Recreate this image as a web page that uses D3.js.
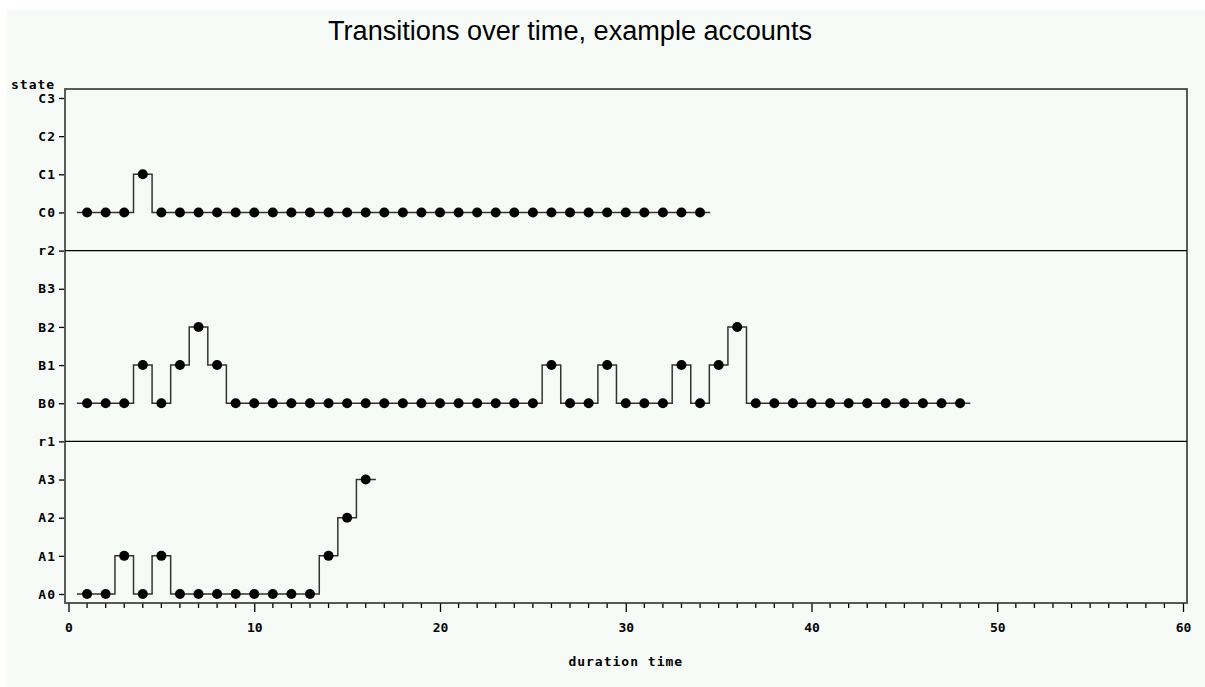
<!DOCTYPE html>
<html>
<head>
<meta charset="utf-8">
<script src="https://cdn.jsdelivr.net/npm/d3@7"></script>
<style>
html,body{margin:0;padding:0;background:#ffffff;}
svg{display:block;}
</style>
</head>
<body>
<svg id="chart" width="1205" height="687"></svg>
<script>
// ---- data ----
const title = "Transitions over time, example accounts";
const xLabel = "duration time";
const yLabel = "state";
const stateLevels = ["A0","A1","A2","A3","r1","B0","B1","B2","B3","r2","C0","C1","C2","C3"];
const separators = ["r1","r2"];
const xTicks = [0,10,20,30,40,50,60];

const timesA = [1,2,3,4,5,6,7,8,9,10,11,12,13,14,15,16];
const statesA = ["A0","A0","A1","A0","A1","A0","A0","A0","A0","A0","A0","A0","A0","A1","A2","A3"];

const timesB = d3.range(1,49);
const statesB = ["B0","B0","B0","B1","B0","B1","B2","B1","B0","B0",
                 "B0","B0","B0","B0","B0","B0","B0","B0","B0","B0",
                 "B0","B0","B0","B0","B0","B1","B0","B0","B1","B0",
                 "B0","B0","B1","B0","B1","B2","B0","B0","B0","B0",
                 "B0","B0","B0","B0","B0","B0","B0","B0"];

const timesC = d3.range(1,35);
const statesC = ["C0","C0","C0","C1","C0","C0","C0","C0","C0","C0",
                 "C0","C0","C0","C0","C0","C0","C0","C0","C0","C0",
                 "C0","C0","C0","C0","C0","C0","C0","C0","C0","C0",
                 "C0","C0","C0","C0"];

const accounts = [
  {times: timesA, states: statesA},
  {times: timesB, states: statesB},
  {times: timesC, states: statesC}
];

// ---- layout ----
const W = 1205, H = 687;
const plotL = 65, plotR = 1187, plotT = 89, plotB = 603;
const ink = "#000000", lineCol = "#333333", bg = "#f7fbf8";

const svg = d3.select("#chart");
svg.append("rect").attr("x",7).attr("y",10).attr("width",W-7).attr("height",H-10).attr("fill",bg);

const x = d3.scaleLinear().domain([0,60]).range([68.5,1183]);
const y = d3.scalePoint().domain(stateLevels).range([594,98]);

// title
svg.append("text").attr("x",570).attr("y",40).attr("text-anchor","middle")
  .attr("font-family","Liberation Sans, Arial, sans-serif").attr("font-size",27)
  .attr("textLength",484).attr("lengthAdjust","spacingAndGlyphs")
  .attr("fill",ink).text(title);

const monoFont = "DejaVu Sans Mono, monospace";
const fs = 13;

// y axis
const yAxis = d3.axisLeft(y).tickSize(5).tickPadding(3);
const gy = svg.append("g").attr("transform",`translate(${plotL-1},0)`).call(yAxis);
gy.select(".domain").remove();
gy.selectAll(".tick line").attr("stroke",ink).attr("stroke-width",1.3);
gy.selectAll(".tick text").attr("font-family",monoFont).attr("font-weight","bold")
  .attr("font-size",fs).attr("letter-spacing","1px").attr("fill",ink);

svg.append("text").attr("x",11).attr("y",89).attr("font-family",monoFont)
  .attr("font-weight","bold").attr("font-size",fs).attr("letter-spacing","1px")
  .attr("fill",ink).text(yLabel);

// x axis
const gx = svg.append("g").attr("transform",`translate(0,${plotB})`);
const minor = d3.range(0,61).filter(v => v % 10 !== 0);
gx.selectAll("line.minor").data(minor).join("line").attr("class","minor")
  .attr("x1",d=>x(d)).attr("x2",d=>x(d)).attr("y1",0).attr("y2",5)
  .attr("stroke",ink).attr("stroke-width",1.3);
gx.call(d3.axisBottom(x).tickValues(xTicks).tickSize(9).tickPadding(11).tickFormat(d3.format("d")));
gx.select(".domain").remove();
gx.selectAll(".tick line").attr("stroke",ink).attr("stroke-width",1.3);
gx.selectAll(".tick text").attr("font-family",monoFont).attr("font-weight","bold")
  .attr("font-size",fs).attr("fill",ink);

svg.append("text").attr("x",(x(0)+x(60))/2).attr("y",666).attr("text-anchor","middle")
  .attr("font-family",monoFont).attr("font-weight","bold").attr("font-size",fs)
  .attr("letter-spacing","1px").attr("fill",ink).text(xLabel);

// frame
svg.append("rect").attr("x",plotL).attr("y",plotT).attr("width",plotR-plotL).attr("height",plotB-plotT)
  .attr("fill","none").attr("stroke","#333").attr("stroke-width",1.6);

// separators
svg.selectAll("line.sep").data(separators).join("line").attr("class","sep")
  .attr("x1",plotL).attr("x2",plotR).attr("y1",d=>y(d)).attr("y2",d=>y(d))
  .attr("stroke",ink).attr("stroke-width",1.4);

// step lines + points
const line = d3.line().x(d=>x(d.t)).y(d=>y(d.s)).curve(d3.curveStep);
accounts.forEach(acc => {
  const pts = acc.times.map((t,i)=>({t:t, s:acc.states[i]}));
  const n = pts.length;
  const ext = [{t:pts[0].t-0.55, s:pts[0].s}, ...pts, {t:pts[n-1].t+0.55, s:pts[n-1].s}];
  svg.append("path").datum(ext).attr("d",line).attr("fill","none")
    .attr("stroke",lineCol).attr("stroke-width",1.5);
  svg.selectAll(null).data(pts).join("circle")
    .attr("cx",d=>x(d.t)).attr("cy",d=>y(d.s)).attr("r",5).attr("fill",ink);
});
</script>
</body>
</html>
